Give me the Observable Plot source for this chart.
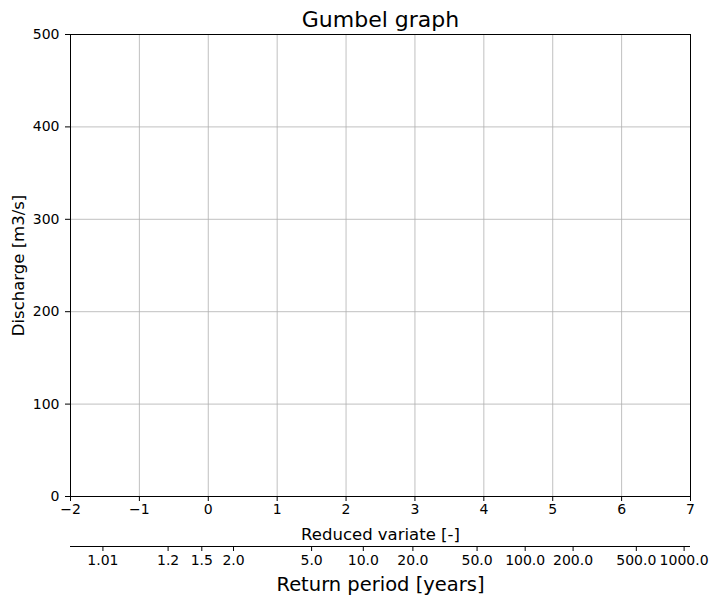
<!DOCTYPE html>
<html>
<head>
<meta charset="utf-8">
<script src="https://cdn.jsdelivr.net/npm/d3@7"></script>
<script src="https://cdn.jsdelivr.net/npm/@observablehq/plot@0.6"></script>
<style>
  html, body { margin: 0; padding: 0; background: #fff; }
  #chart { width: 717px; font-family: "DejaVu Sans", sans-serif; }
  #chart svg { display: block; }
</style>
</head>
<body>
<div id="chart"></div>
<script>
const chartTitle = "Gumbel graph";
const xLabel = "Reduced variate [-]";
const yLabel = "Discharge [m3/s]";
const secondaryLabel = "Return period [years]";
const xDomain = [-2, 7];
const yDomain = [0, 500];
const xTicks = [-2, -1, 0, 1, 2, 3, 4, 5, 6, 7];
const yTicks = [0, 100, 200, 300, 400, 500];
const returnPeriods = [1.01, 1.2, 1.5, 2.0, 5.0, 10.0, 20.0, 50.0, 100.0, 200.0, 500.0, 1000.0];
const returnPeriodLabels = ["1.01", "1.2", "1.5", "2.0", "5.0", "10.0", "20.0", "50.0", "100.0", "200.0", "500.0", "1000.0"];

// Gumbel reduced variate for a return period T
const reduced = T => -Math.log(-Math.log(1 - 1 / T));
const rpTicks = returnPeriods.map(reduced);

const fmtMinus = d => d < 0 ? "\u2212" + Math.abs(d) : String(d);
const font = "DejaVu Sans";
const gridStyle = {stroke: "#b0b0b0", strokeOpacity: 1, strokeWidth: 0.8};

const main = Plot.plot({
  width: 717,
  height: 545,
  marginTop: 34,
  marginBottom: 49,
  marginLeft: 70,
  marginRight: 27,
  style: {fontFamily: font, color: "black", background: "white"},
  x: {domain: xDomain},
  y: {domain: yDomain},
  marks: [
    Plot.gridX(xTicks, gridStyle),
    Plot.gridY(yTicks, gridStyle),
    Plot.frame({stroke: "black", strokeWidth: 1}),
    Plot.axisX(xTicks, {tickSize: 5, tickPadding: 3, fontSize: 14, tickFormat: fmtMinus, label: null}),
    Plot.axisY(yTicks, {tickSize: 5, tickPadding: 6, fontSize: 14, label: null}),
    Plot.text([chartTitle], {frameAnchor: "top", text: d => d, dy: -15, fontSize: 22, lineAnchor: "middle"}),
    Plot.text([xLabel], {frameAnchor: "bottom", text: d => d, dy: 38, fontSize: 16.5, lineAnchor: "middle"}),
    Plot.text([yLabel], {frameAnchor: "left", text: d => d, dx: -52, rotate: -90, fontSize: 16.5, textAnchor: "middle", lineAnchor: "middle"})
  ]
});

const secondary = Plot.plot({
  width: 717,
  height: 59,
  marginTop: 0,
  marginBottom: 58,
  marginLeft: 70,
  marginRight: 27,
  style: {fontFamily: font, color: "black", background: "white"},
  x: {domain: xDomain},
  y: {domain: [0, 1], axis: null},
  marks: [
    Plot.ruleY([0], {stroke: "black", strokeWidth: 1}),
    Plot.axisX(rpTicks, {anchor: "bottom", tickSize: 5, tickPadding: 4, fontSize: 14,
      tickFormat: d => returnPeriodLabels[rpTicks.indexOf(d)], label: null}),
    Plot.text([secondaryLabel], {frameAnchor: "bottom", text: d => d, dy: 38, fontSize: 19.5, lineAnchor: "middle"})
  ]
});

const el = document.getElementById("chart");
el.appendChild(main);
el.appendChild(secondary);
</script>
</body>
</html>
